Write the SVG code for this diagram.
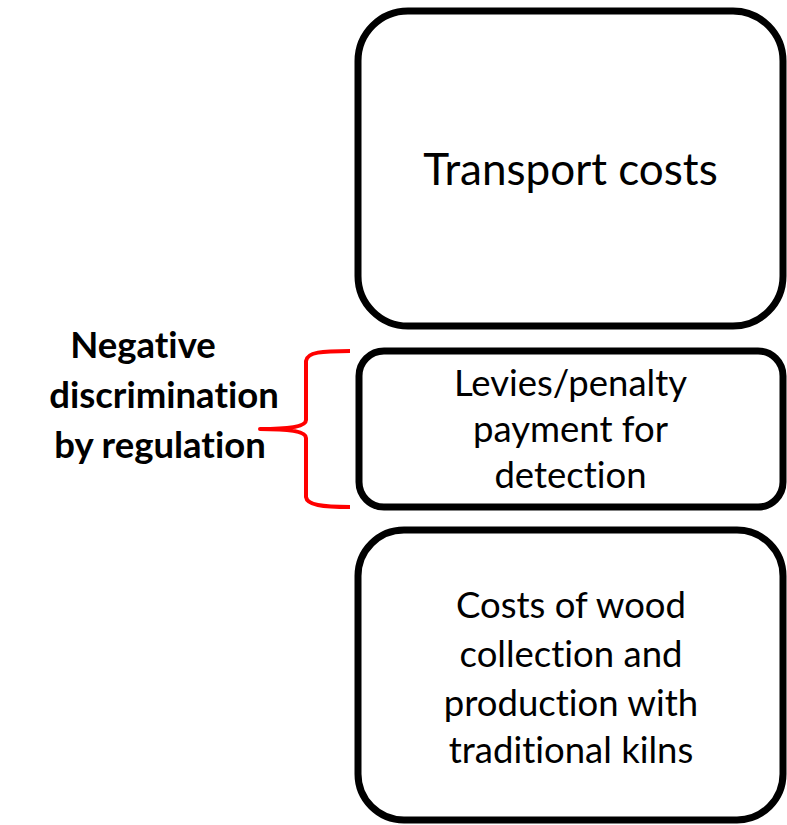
<svg xmlns="http://www.w3.org/2000/svg" width="787" height="825" viewBox="0 0 787 825">
<style>
.box{fill:#fff;stroke:#000;stroke-width:7}
.t{font-family:Lato,"Liberation Sans",sans-serif;fill:#000;text-anchor:middle;font-variant-ligatures:none}
.n{font-size:36.5px}
.b{font-family:Lato,"Liberation Sans",sans-serif;font-weight:bold;font-size:36.5px;fill:#000;text-anchor:middle;font-variant-ligatures:none}
.brace{fill:none;stroke:#ff0000;stroke-width:4;stroke-linejoin:round;stroke-linecap:butt}
</style>
<rect width="787" height="825" fill="#fff"/>
<g id="node-transport">
<rect class="box" x="358" y="11" width="425" height="315" rx="50" ry="50"/>
<text class="t" x="570.5" y="185" font-size="44">Transport costs</text>
</g>
<g id="node-levies">
<rect class="box" x="359" y="351" width="424" height="156" rx="25" ry="25"/>
<text class="t n" x="570.5" y="396">Levies/penalty</text>
<text class="t n" x="570.5" y="442">payment for</text>
<text class="t n" x="570.5" y="488">detection</text>
</g>
<g id="node-costs">
<rect class="box" x="358" y="530" width="425" height="290" rx="46" ry="46"/>
<text class="t n" x="571" y="618">Costs of wood</text>
<text class="t n" x="571" y="667">collection and</text>
<text class="t n" x="571" y="716">production with</text>
<text class="t n" x="571" y="763">traditional kilns</text>
</g>
<g id="label-negative">
<text class="b" x="143" y="358">Negative</text>
<text class="b" x="164" y="408">discrimination</text>
<text class="b" x="160" y="458">by regulation</text>
</g>
<g id="connectors">
<path class="brace" d="M350,351 C322,351 307,352 306,361 L306,420 C306,426 292,429 260,429 C292,429 306,432 306,438 L306,497 C307,505 322,507 350,507"/>
</g>
</svg>
